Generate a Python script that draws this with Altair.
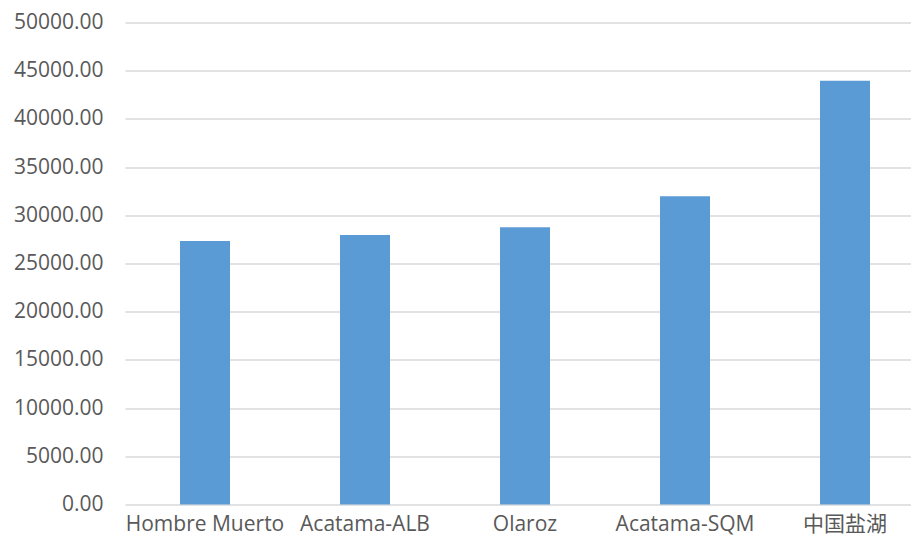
import altair as alt
import pandas as pd

categories = ["Hombre Muerto", "Acatama-ALB", "Olaroz", "Acatama-SQM", "中国盐湖"]
values = [27340, 27960, 28760, 31970, 43960]
y_ticks = [0, 5000, 10000, 15000, 20000, 25000, 30000, 35000, 40000, 45000, 50000]

df = pd.DataFrame({"site": categories, "value": values})

font = "Open Sans, Noto Sans CJK SC"

chart = (
    alt.Chart(df)
    .mark_bar(color="#5B9BD5")
    .encode(
        x=alt.X(
            "site:N",
            sort=categories,
            title=None,
            scale=alt.Scale(range=[0, 800], paddingInner=0.6875, paddingOuter=0.34375),
            axis=alt.Axis(
                labelAngle=0,
                labelFont=font,
                labelFontSize=21,
                labelColor="#595959",
                labelPadding=9,
                domain=False,
                ticks=False,
                grid=False,
            ),
        ),
        y=alt.Y(
            "value:Q",
            title=None,
            scale=alt.Scale(domain=[0, 50000], nice=False),
            axis=alt.Axis(
                values=y_ticks,
                format=".2f",
                labelFont=font,
                labelFontSize=21,
                labelColor="#595959",
                labelPadding=22,
                domain=False,
                ticks=False,
                grid=True,
                gridColor="#D9D9D9",
                gridWidth=1.5,
            ),
        ),
    )
    .properties(
        width=786,
        height=482,
        autosize=alt.AutoSizeParams(type="none"),
        padding={"left": 117, "top": 14.5, "right": 0, "bottom": 33.5},
    )
    .configure_view(stroke=None)
)

chart.save("out.html", embed_options={"renderer": "svg", "actions": False})
